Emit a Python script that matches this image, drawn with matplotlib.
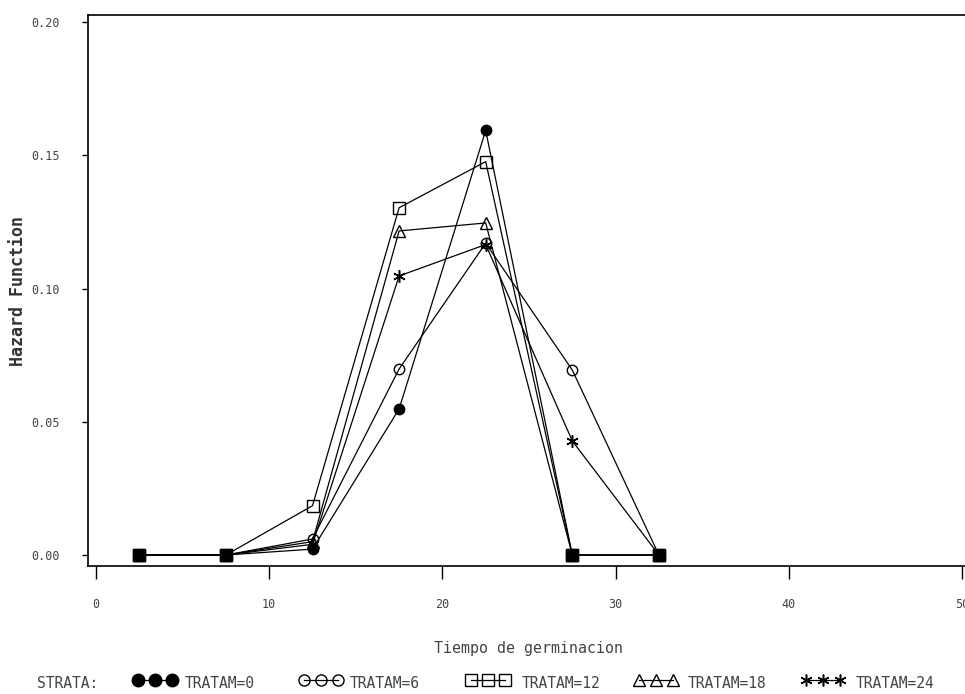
import matplotlib
matplotlib.use("Agg")
import matplotlib.pyplot as plt
from collections import Counter

# ---- data ----
times = [2.5, 7.5, 12.5, 17.5, 22.5, 27.5, 32.5]
strata = ["TRATAM=0", "TRATAM=6", "TRATAM=12", "TRATAM=18", "TRATAM=24"]
haz_0 = [0.0, 0.0, 0.0022, 0.0548, 0.1593, 0.0, 0.0]
haz_6 = [0.0, 0.0, 0.0060, 0.0698, 0.1170, 0.0694, 0.0]
haz_12 = [0.0, 0.0, 0.0185, 0.1303, 0.1476, 0.0, 0.0]
haz_18 = [0.0, 0.0, 0.0050, 0.1216, 0.1246, 0.0, 0.0]
haz_24 = [0.0, 0.0, 0.0040, 0.1047, 0.1165, 0.0428, 0.0]
series = [haz_0, haz_6, haz_12, haz_18, haz_24]
xticks = [0, 10, 20, 30, 40, 50]
yticks = [0.00, 0.05, 0.10, 0.15, 0.20]

W, H = 965, 694
fig = plt.figure(figsize=(W / 100, H / 100), dpi=100)
mono = "DejaVu Sans Mono"

def fx(px):
    return px / W

def fy(py):
    return 1 - py / H

# axes box: left 88, top 15, right 965, bottom 566 (pixels)
ax = fig.add_axes([fx(88), fy(566), fx(965) - fx(88), fy(15) - fy(566)])
# x: 0 at 96 px, 50 at 962 px ; y: 0 at 555 px, 0.2 at 22 px
xs = 50 / (962 - 96)
ax.set_xlim(0 - (96 - 88) * xs, 50 + (965 - 962) * xs)
ys = 0.2 / (555 - 22)
ax.set_ylim(0 - (566 - 555) * ys, 0.2 + (22 - 15) * ys)

styles = [
    dict(marker="o", ms=7.5, mfc="black", mec="black"),
    dict(marker="o", ms=7.5, mfc="none", mec="black", mew=1.0),
    dict(marker="s", ms=8.5, mfc="none", mec="black", mew=1.0),
    dict(marker="^", ms=8, mfc="none", mec="black", mew=1.0),
    dict(marker=(6, 2, 0), ms=9, mfc="none", mec="black", mew=1.1),
]

for vals, st in zip(series, styles):
    ax.plot(times, vals, color="black", lw=0.9, zorder=3, **st)

# points shared by several strata are drawn as filled squares
cnt = Counter()
for vals in series:
    for t, v in zip(times, vals):
        cnt[(t, v)] += 1
shared = [k for k, c in cnt.items() if c >= 2]
ax.plot([k[0] for k in shared], [k[1] for k in shared], ls="none",
        marker="s", ms=8, mfc="black", mec="black", zorder=5)

ax.spines["right"].set_visible(False)
for s in ["left", "top", "bottom"]:
    ax.spines[s].set_linewidth(1.2)

ax.set_xticks(xticks)
ax.set_xticklabels([str(v) for v in xticks], fontfamily=mono, fontsize=8.5,
                   color="#444444")
ax.set_yticks(yticks)
ax.set_yticklabels([f"{v:.2f}" for v in yticks], fontfamily=mono, fontsize=8.5,
                   color="#444444")
ax.tick_params(axis="x", direction="out", length=9, width=1.0, pad=14)
ax.tick_params(axis="y", direction="out", length=4.5, width=1.0, pad=16)

fig.text(fx(18), fy(291), "Hazard Function", rotation=90, ha="center",
         va="center", fontfamily=mono, fontsize=12, fontweight="bold",
         color="#333333")
fig.text(fx(529), fy(648), "Tiempo de germinacion", ha="center", va="center",
         fontfamily=mono, fontsize=10.8, color="#444444")

# legend row drawn in pixel coordinates
lax = fig.add_axes([0, 0, 1, 1], facecolor="none")
lax.set_xlim(0, W)
lax.set_ylim(H, 0)
lax.axis("off")
ly = 680
lax.text(37, ly + 4, "STRATA:", ha="left", va="center", fontfamily=mono,
         fontsize=10.5, color="#444444")
handle_x = [138, 304, 471, 639, 806]
text_x = [185, 350, 522, 688, 856]
leg_sizes = [9, 8, 8.5, 8, 8.5]
for hx, tx, st, ms, name in zip(handle_x, text_x, styles, leg_sizes, strata):
    st2 = dict(st)
    st2["ms"] = ms
    pts = [hx, hx + 17, hx + 34]
    lax.plot(pts, [ly, ly, ly], color="black", lw=0.9, **st2)
    lax.text(tx, ly + 4, name, ha="left", va="center", fontfamily=mono,
             fontsize=10.5, color="#444444")

fig.savefig("out.png", dpi=100)
